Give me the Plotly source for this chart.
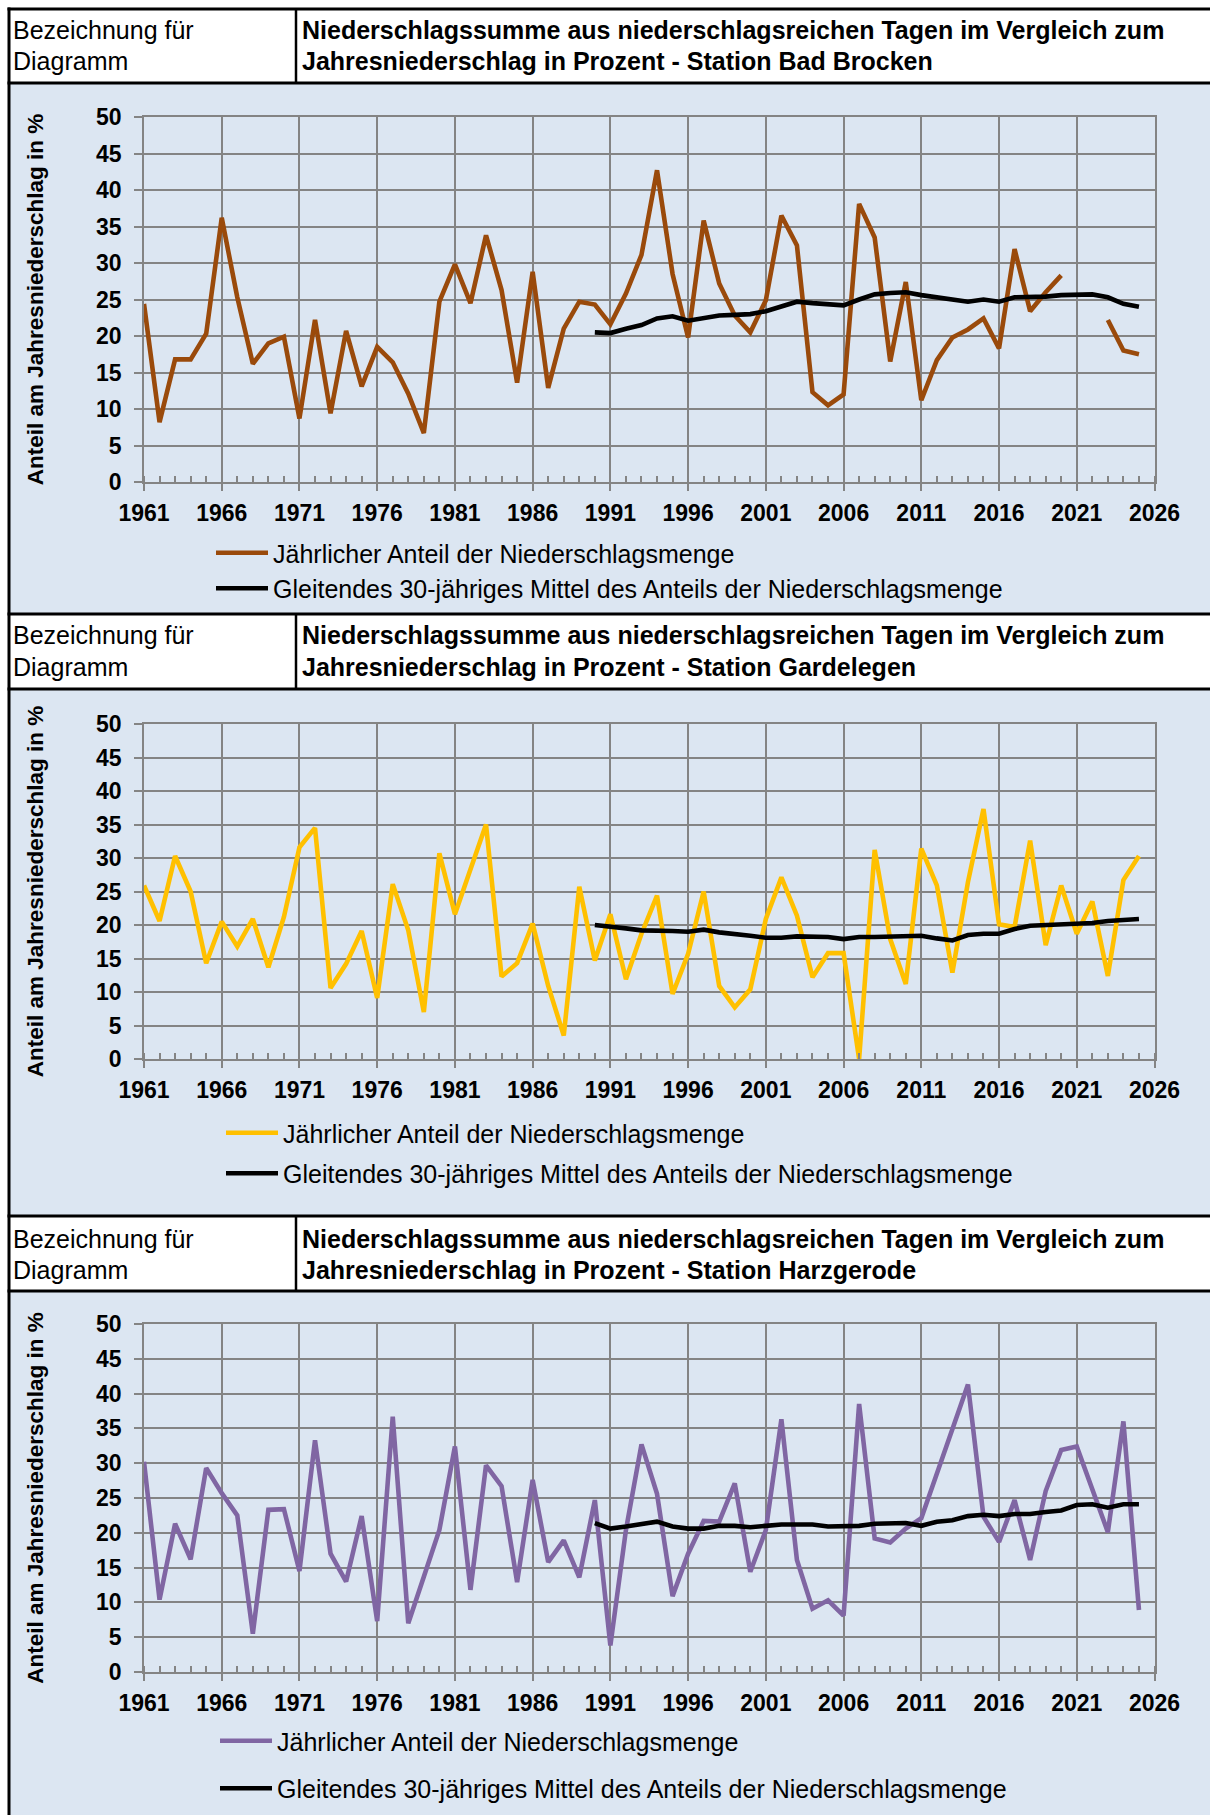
import plotly.graph_objects as go

W, H = 1210, 1815

years = list(range(1961, 2026))
ma_years = list(range(1990, 2026))
x_ticks = list(range(1961, 2027, 5))
y_ticks = list(range(0, 51, 5))

stations = ["Bad Brocken", "Gardelegen", "Harzgerode"]

brocken_annual = [24.4, 8.2, 16.8, 16.8, 20.3, 36.2, 25.3, 16.2, 19.0, 19.9,
                  8.7, 22.2, 9.4, 20.7, 13.1, 18.5, 16.4, 12.1, 6.7, 24.7,
                  29.8, 24.5, 33.8, 26.3, 13.6, 28.8, 12.9, 21.0, 24.7, 24.3,
                  21.6, 25.8, 31.1, 42.7, 28.5, 19.8, 35.8, 27.2, 22.8, 20.5,
                  24.9, 36.5, 32.4, 12.3, 10.5, 12.0, 38.1, 33.5, 16.5, 27.4,
                  11.2, 16.7, 19.8, 20.9, 22.4, 18.3, 31.9, 23.4, 26.0, 28.3,
                  None, None, 22.2, 18.0, 17.5]
brocken_ma = [20.5, 20.4, 21.0, 21.5, 22.4, 22.7, 22.1, 22.5, 22.8, 22.9,
              23.0, 23.4, 24.0, 24.7, 24.5, 24.4, 24.2, 25.0, 25.7, 25.9,
              26.0, 25.6, 25.3, 24.9, 24.7, 25.0, 24.7, 25.3, 25.3, 25.4,
              25.6, 25.7, 25.7, 25.3, 24.4, 24.0]

gardelegen_annual = [25.9, 20.6, 30.3, 25.0, 14.3, 20.5, 16.8, 20.9, 13.7, 21.2,
                     31.6, 34.5, 10.6, 14.2, 19.1, 9.1, 26.1, 19.2, 7.0, 30.7,
                     21.6, 28.1, 35.0, 12.3, 14.3, 20.2, 10.9, 3.5, 25.7, 14.7,
                     21.6, 11.9, 18.7, 24.4, 9.7, 15.7, 25.0, 10.9, 7.7, 10.4,
                     20.9, 27.1, 21.4, 12.2, 15.8, 15.8, 0.0, 31.2, 17.9, 11.2,
                     31.4, 25.9, 12.9, 26.4, 37.3, 20.1, 19.7, 32.6, 17.0, 25.9,
                     18.7, 23.5, 12.4, 26.7, 30.3]
gardelegen_ma = [20.0, 19.8, 19.5, 19.2, 19.2, 19.1, 19.0, 19.3, 18.9, 18.7,
                 18.4, 18.1, 18.1, 18.3, 18.3, 18.2, 17.9, 18.2, 18.2, 18.3,
                 18.4, 18.4, 18.0, 17.7, 18.5, 18.7, 18.7, 19.4, 19.9, 20.0,
                 20.1, 20.2, 20.3, 20.6, 20.8, 20.9]

harzgerode_annual = [30.2, 10.4, 21.3, 16.2, 29.3, 25.7, 22.5, 5.5, 23.3, 23.4,
                     14.5, 33.3, 17.0, 13.0, 22.4, 7.3, 36.7, 7.0, 13.7, 20.4,
                     32.4, 11.8, 29.7, 26.7, 12.9, 27.6, 15.8, 18.9, 13.6, 24.7,
                     3.8, 20.4, 32.7, 25.6, 10.9, 17.0, 21.7, 21.6, 27.1, 14.4,
                     20.4, 36.3, 16.1, 9.1, 10.3, 8.1, 38.5, 19.2, 18.6, 20.6,
                     22.1, 28.5, 34.5, 41.3, 22.3, 18.7, 24.7, 16.1, 26.0, 31.9,
                     32.4, 26.1, 20.1, 36.0, 8.9]
harzgerode_ma = [21.4, 20.6, 20.9, 21.2, 21.6, 20.9, 20.6, 20.6, 21.0, 21.0,
                 20.8, 21.0, 21.2, 21.2, 21.2, 20.9, 20.9, 21.0, 21.3, 21.4,
                 21.4, 21.0, 21.6, 21.8, 22.4, 22.6, 22.4, 22.7, 22.7, 23.0,
                 23.2, 24.0, 24.1, 23.6, 24.1, 24.1]

annual_series = [brocken_annual, gardelegen_annual, harzgerode_annual]
ma_series = [brocken_ma, gardelegen_ma, harzgerode_ma]
line_colors = ["#9A4A0B", "#FFC000", "#8066A3"]

name_annual = "Jährlicher Anteil der Niederschlagsmenge"
name_ma = "Gleitendes 30-jähriges Mittel des Anteils der Niederschlagsmenge"
title_l1 = "Niederschlagssumme aus niederschlagsreichen Tagen im Vergleich zum"
title_l2 = "Jahresniederschlag in Prozent - Station "
ytitle = "Anteil am Jahresniederschlag in %"

FONT = "Arial, Liberation Sans, sans-serif"
BG = "#DCE6F2"
GRID = "#848484"


def px_x(x):
    return x / W


def px_y(y):
    return 1 - y / H


# layout geometry in pixels (top-origin)
panels = [
    dict(head_top=9, head_bot=83, row1=30, row2=61, blue_bot=614,
         y50=117, y0=482, leg_top=530, leg_x=211, gap=0),
    dict(head_top=614, head_bot=689, row1=635, row2=667, blue_bot=1216,
         y50=724, y0=1059, leg_top=1110, leg_x=221, gap=5),
    dict(head_top=1216, head_bot=1291, row1=1239, row2=1270, blue_bot=1815,
         y50=1324, y0=1672, leg_top=1718, leg_x=215, gap=12),
]
PLOT_L, PLOT_R = 144, 1154.5
DIVIDER_X = 296
LEFT_X = 9

fig = go.Figure()
shapes = []
annotations = []
layout_axes = {}

for i, p in enumerate(panels):
    n = i + 1
    sfx = "" if n == 1 else str(n)
    leg = "legend" if n == 1 else f"legend{n}"
    fig.add_trace(go.Scatter(
        x=years, y=annual_series[i], mode="lines", name=name_annual,
        line=dict(color=line_colors[i], width=4.6), connectgaps=False,
        xaxis=f"x{sfx}", yaxis=f"y{sfx}", legend=leg, legendgroup=f"a{n}"))
    fig.add_trace(go.Scatter(
        x=ma_years, y=ma_series[i], mode="lines", name=name_ma,
        line=dict(color="black", width=4.6),
        xaxis=f"x{sfx}", yaxis=f"y{sfx}", legend=leg, legendgroup=f"m{n}"))

    layout_axes[f"xaxis{sfx}"] = dict(
        domain=[px_x(PLOT_L), px_x(PLOT_R)], anchor=f"y{sfx}",
        range=[1961, 2026], tickmode="array", tickvals=x_ticks,
        ticks="outside", ticklen=7, tickwidth=1.6, tickcolor=GRID,
        showgrid=True, gridcolor=GRID, gridwidth=1.6,
        showline=True, linecolor=GRID, linewidth=1.6, mirror=True,
        zeroline=False, ticklabelstandoff=3, automargin=False,
        tickfont=dict(family=FONT, size=23, color="black", weight="bold"),
        minor=dict(dtick=1, tick0=1961, ticks="inside", ticklen=6,
                   tickwidth=1.6, tickcolor=GRID, showgrid=False),
    )
    layout_axes[f"yaxis{sfx}"] = dict(
        domain=[px_y(p["y0"]), px_y(p["y50"])], anchor=f"x{sfx}",
        range=[0, 50], tickmode="array", tickvals=y_ticks,
        ticks="outside", ticklen=8, tickwidth=1.6, tickcolor=GRID,
        showgrid=True, gridcolor=GRID, gridwidth=1.6,
        showline=True, linecolor=GRID, linewidth=1.6, mirror=True,
        zeroline=False, ticklabelstandoff=8, automargin=False,
        tickfont=dict(family=FONT, size=23, color="black", weight="bold"),
        title=dict(text=ytitle, standoff=46,
                   font=dict(family=FONT, size=22.5, color="black", weight="bold")),
    )
    layout_axes[leg] = dict(
        x=px_x(p["leg_x"]), y=px_y(p["leg_top"]), xanchor="left", yanchor="top",
        orientation="v", traceorder="grouped", tracegroupgap=p["gap"],
        itemwidth=52,
        bgcolor="rgba(0,0,0,0)", borderwidth=0,
        font=dict(family=FONT, size=25, color="black"),
    )

    # blue chart background region
    shapes.append(dict(type="rect", xref="paper", yref="paper", layer="below",
                       x0=px_x(LEFT_X), x1=1.0, y0=px_y(p["blue_bot"]), y1=px_y(p["head_bot"]),
                       fillcolor=BG, line=dict(width=0)))
    # header borders
    for yy in (p["head_top"], p["head_bot"]):
        shapes.append(dict(type="line", xref="paper", yref="paper",
                           x0=px_x(LEFT_X - 1.5), x1=1.0, y0=px_y(yy), y1=px_y(yy),
                           line=dict(color="black", width=3)))
    shapes.append(dict(type="line", xref="paper", yref="paper",
                       x0=px_x(DIVIDER_X), x1=px_x(DIVIDER_X),
                       y0=px_y(p["head_top"]), y1=px_y(p["head_bot"]),
                       line=dict(color="black", width=2.5)))
    # header texts
    for txt, yy, xx, bold in [("Bezeichnung für", p["row1"], 11, False),
                              ("Diagramm", p["row2"], 11, False),
                              (title_l1, p["row1"], 300, True),
                              (title_l2 + stations[i], p["row2"], 300, True)]:
        annotations.append(dict(
            text=txt, xref="paper", yref="paper", x=px_x(xx), y=px_y(yy),
            xanchor="left", yanchor="middle", showarrow=False,
            font=dict(family=FONT, size=25, color="black",
                      weight="bold" if bold else "normal")))

# left border line spanning full height
shapes.append(dict(type="line", xref="paper", yref="paper",
                   x0=px_x(LEFT_X), x1=px_x(LEFT_X), y0=0, y1=px_y(LEFT_X - 1.5),
                   line=dict(color="black", width=3)))

fig.update_layout(
    width=W, height=H,
    margin=dict(l=0, r=0, t=0, b=0, autoexpand=False),
    paper_bgcolor="white", plot_bgcolor="white",
    showlegend=True,
    shapes=shapes, annotations=annotations,
    font=dict(family=FONT, color="black"),
    **layout_axes,
)

fig.write_html("out.html", config={"displayModeBar": False},
               post_script="document.body.style.margin='0';")
